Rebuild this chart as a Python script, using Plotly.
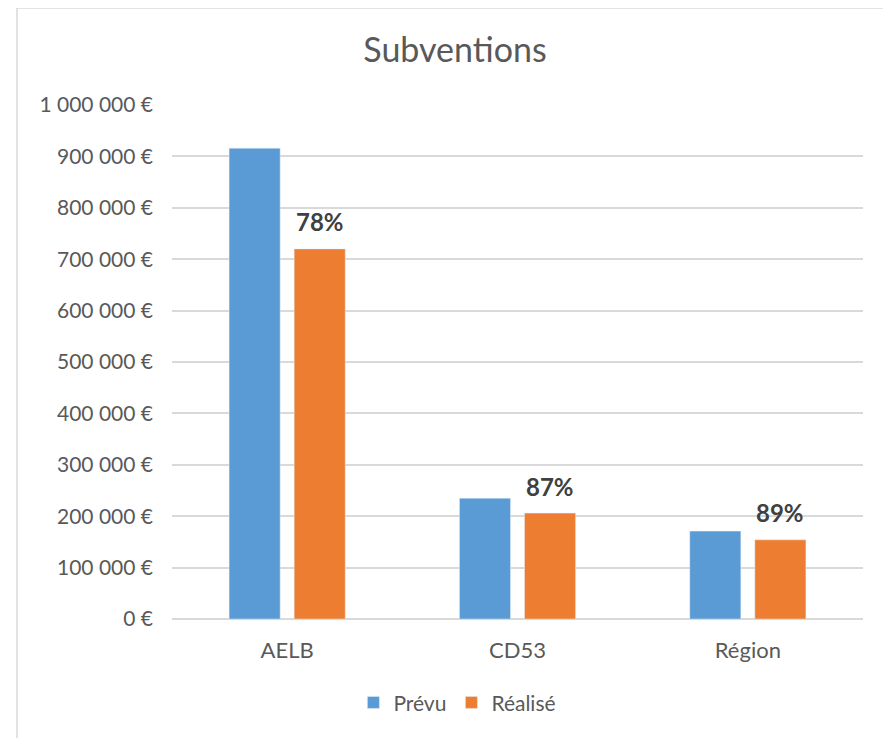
import plotly.graph_objects as go

categories = ["AELB", "CD53", "Région"]
prevu = [916000, 235000, 171000]
realise = [720000, 206000, 154000]
pct_labels = ["78%", "87%", "89%"]
tick_vals = [0, 100000, 200000, 300000, 400000, 500000, 600000, 700000, 800000, 900000, 1000000]
tick_text = ["0 €", "100 000 €", "200 000 €", "300 000 €", "400 000 €", "500 000 €",
             "600 000 €", "700 000 €", "800 000 €", "900 000 €", "1 000 000 €"]

FONT = "Lato, Calibri, Carlito, sans-serif"
GREY = "#595959"

# page body has an 8px margin: figure drawn at (8, 8)
W, H = 883, 730
L, R, T, B = 164, 28, 97, 119
PW, PH = W - L - R, H - T - B

fig = go.Figure()
fig.add_trace(go.Bar(name="Prévu", x=categories, y=prevu, marker_color="#5B9BD5"))
fig.add_trace(go.Bar(name="Réalisé", x=categories, y=realise, marker_color="#ED7D31"))

annotations = []
for i, (lab, v) in enumerate(zip(pct_labels, realise)):
    annotations.append(dict(x=i + 0.141, y=v, xref="x", yref="y", text=lab, showarrow=False,
                            yanchor="middle", yshift=27,
                            font=dict(size=24, color="#404040", family=FONT, weight="bold")))

fig.update_layout(
    width=W, height=H,
    margin=dict(l=L, r=R, t=T, b=B, autoexpand=False),
    paper_bgcolor="white", plot_bgcolor="white",
    barmode="group", bargap=0.435, bargroupgap=0.215,
    font=dict(family=FONT, color=GREY, size=21),
    title=dict(text="Subventions", x=447 / W, xanchor="center", xref="container",
               y=1 - 42 / H, yanchor="middle",
               font=dict(size=34, color=GREY, family=FONT)),
    legend=dict(orientation="h", x=0.413, xanchor="center", y=-0.163, yanchor="middle",
                font=dict(size=21, color=GREY, family=FONT)),
    annotations=annotations,
    xaxis=dict(showgrid=False, showline=False, ticks="", tickfont=dict(size=22, color=GREY),
               ticklabelstandoff=16),
    yaxis=dict(range=[0, 1000000], tickvals=tick_vals, ticktext=tick_text,
               showgrid=True, gridcolor="#D9D9D9", gridwidth=1.5, zeroline=True,
               zerolinecolor="#D9D9D9", zerolinewidth=1.5, showline=False, ticks="",
               tickfont=dict(size=21, color=GREY), ticklabelstandoff=18),
    shapes=[dict(type="rect", xref="paper", yref="paper",
                 x0=(9 - L) / PW, x1=(881 - L) / PW,
                 y0=(611 - 745) / PH, y1=(611 + 0) / PH,
                 line=dict(color="#D9D9D9", width=1.5), fillcolor="rgba(0,0,0,0)", layer="below")],
)

fig.write_html("out.html")
